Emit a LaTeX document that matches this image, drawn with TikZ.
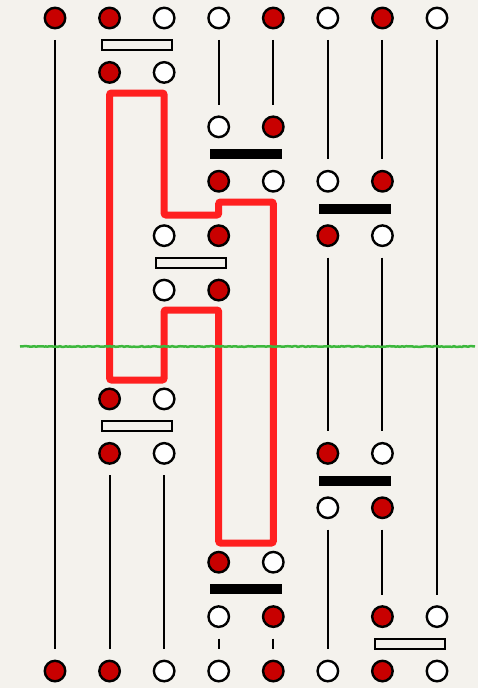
\documentclass[tikz,border=0pt]{standalone}
\usetikzlibrary{decorations.pathmorphing}
\definecolor{paper}{HTML}{F4F2ED}
\definecolor{dotred}{HTML}{C80000}
\definecolor{pathred}{HTML}{FF2020}
\definecolor{grn}{HTML}{3DB83D}
\begin{document}
\begin{tikzpicture}[x=1pt,y=-1pt,
 dot/.style={circle,draw=black,line width=2.4pt,minimum size=20.5pt,inner sep=0pt},
 dotr/.style={dot,fill=dotred}, dotw/.style={dot,fill=white},
 wire/.style={line width=2pt,shorten <=10.5pt,shorten >=10.5pt},
 openbar/.style={draw=black,line width=2pt,fill=paper,minimum width=70pt,minimum height=10pt,inner sep=0pt},
 solidbar/.style={fill=black,minimum width=72pt,minimum height=10pt,inner sep=0pt},
 loop/.style={draw=pathred,line width=7pt,rounded corners=2pt},
 cut/.style={draw=grn,line width=2.5pt,decorate,decoration={random steps,segment length=2pt,amplitude=0.4pt}}]
\fill[paper] (0,0) rectangle (478,688);
\useasboundingbox (0,0) rectangle (478,688);
% dots
\foreach \c/\r/\s in {1/0/r,2/0/r,3/0/w,4/0/w,5/0/r,6/0/w,7/0/r,8/0/w,
  2/1/r,3/1/w,
  4/2/w,5/2/r,
  4/3/r,5/3/w,6/3/w,7/3/r,
  3/4/w,4/4/r,6/4/r,7/4/w,
  3/5/w,4/5/r,
  2/7/r,3/7/w,
  2/8/r,3/8/w,6/8/r,7/8/w,
  6/9/w,7/9/r,
  4/10/r,5/10/w,
  4/11/w,5/11/r,7/11/r,8/11/w,
  1/12/r,2/12/r,3/12/w,4/12/w,5/12/r,6/12/w,7/12/r,8/12/w}
  \node[dot\s] (c\c r\r) at ({55+54.57*(\c-1)},{18+54.42*\r}) {};
% wires
\draw[wire] (c1r0) -- (c1r12);
\draw[wire] (c2r8) -- (c2r12);
\draw[wire] (c3r8) -- (c3r12);
\draw[wire] (c4r0) -- (c4r2);
\draw[wire] (c5r0) -- (c5r2);
\draw[wire] (c4r11) -- (c4r12);
\draw[wire] (c5r11) -- (c5r12);
\draw[wire] (c6r0) -- (c6r3);
\draw[wire] (c6r4) -- (c6r8);
\draw[wire] (c6r9) -- (c6r12);
\draw[wire] (c7r0) -- (c7r3);
\draw[wire] (c7r4) -- (c7r8);
\draw[wire] (c7r9) -- (c7r11);
\draw[wire] (c8r0) -- (c8r11);
% bars
\node[openbar] (b1) at (136.9,45.2) {};
\node[openbar] (b2) at (191.4,262.9) {};
\node[openbar] (b3) at (136.9,426.2) {};
\node[openbar] (b4) at (409.7,643.8) {};
\node[solidbar] (k1) at (246,154) {};
\node[solidbar] (k2) at (355.2,208.5) {};
\node[solidbar] (k3) at (355.2,480.6) {};
\node[solidbar] (k4) at (246,589.4) {};
% red loop
\draw[loop] (109.6,93) -- (164.1,93) -- (164.1,215) -- (218.7,215) -- (218.7,202)
  -- (273.3,202) -- (273.3,543) -- (218.7,543) -- (218.7,310) -- (164.1,310)
  -- (164.1,380) -- (109.6,380) -- cycle;
% green cut
\draw[cut] (20,346.5) -- (475,346.5);
\end{tikzpicture}
\end{document}
